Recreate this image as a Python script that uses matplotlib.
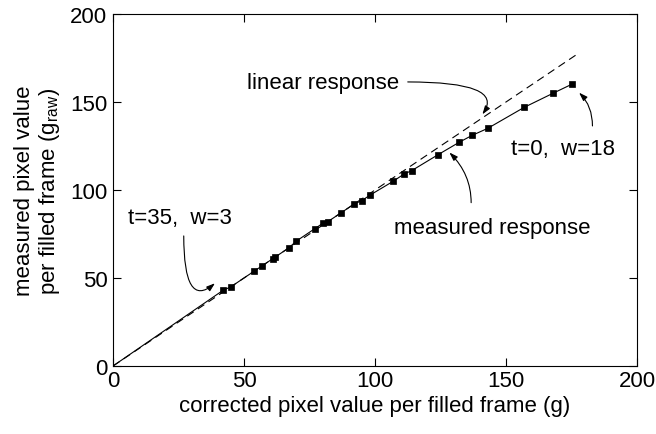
import matplotlib
matplotlib.use("Agg")
import matplotlib.pyplot as plt

plt.rcParams['font.family'] = ['Liberation Sans', 'DejaVu Sans']
plt.rcParams['mathtext.fontset'] = 'custom'
plt.rcParams['mathtext.rm'] = 'Liberation Sans'

corrected = [42, 45, 54, 57, 61, 62, 67, 70, 77, 80, 82, 87, 92, 95, 98,
             107, 111, 114, 124, 132, 137, 143, 157, 168, 175]
measured = [43, 45, 54, 57, 61, 62, 67, 71, 78, 81, 82, 87, 92, 94, 97,
            105, 109, 111, 120, 127, 131, 135, 147, 155, 160]
linear_x = [0, 177]
linear_y = [0, 177]

W, H = 656, 435
fig = plt.figure(figsize=(W / 100, H / 100), dpi=100)
ax = fig.add_axes([113 / W, 1 - 367 / H, 524 / W, 352 / H])

ax.plot(linear_x, linear_y, 'k-', lw=0.8, dashes=(7, 4.5))
ax.plot([0] + corrected, [0] + measured, 'k-', lw=0.8)
ax.plot(corrected, measured, 'ks', ms=5.0, mew=0.5, lw=0)

ax.set_xlim(0, 200)
ax.set_ylim(0, 200)
ax.set_xticks([0, 50, 100, 150, 200])
ax.set_yticks([0, 50, 100, 150, 200])
ax.tick_params(direction='in', top=True, right=True, length=6, width=0.8,
               labelsize=16)
ax.tick_params(axis='x', pad=3)
ax.tick_params(axis='y', pad=4)
for s in ax.spines.values():
    s.set_linewidth(0.8)

ax.set_xlabel('corrected pixel value per filled frame (g)', fontsize=16, labelpad=3)
ax.set_ylabel('measured pixel value\nper filled frame (g$_\\mathregular{raw}$)',
              fontsize=16, labelpad=6, linespacing=1.1)

ap = dict(arrowstyle='-|>,head_length=0.5,head_width=0.17', color='k',
          lw=0.8, mutation_scale=10, shrinkA=0, shrinkB=0)

ax.text(109.3, 158.2, 'linear response', fontsize=16, ha='right', va='baseline')
ax.annotate('', xy=(141, 143), xytext=(112.5, 161.4),
            arrowprops=dict(connectionstyle='angle3,angleA=0,angleB=55', **ap))

ax.text(144.6, 75.8, 'measured response', fontsize=16, ha='center', va='baseline')
ax.annotate('', xy=(128.4, 121.3), xytext=(136.7, 92.8),
            arrowprops=dict(connectionstyle='angle3,angleA=90,angleB=135', **ap))

ax.text(5.8, 81.5, 't=35,  w=3', fontsize=16, ha='left', va='baseline')
ax.annotate('', xy=(38.9, 47), xytext=(27, 73.9),
            arrowprops=dict(connectionstyle='angle3,angleA=90,angleB=40', **ap))

ax.text(151.9, 120.3, 't=0,  w=18', fontsize=16, ha='left', va='baseline')
ax.annotate('', xy=(177.9, 155.3), xytext=(183, 136.4),
            arrowprops=dict(connectionstyle='angle3,angleA=90,angleB=135', **ap))

fig.savefig('out.png', dpi=100)
